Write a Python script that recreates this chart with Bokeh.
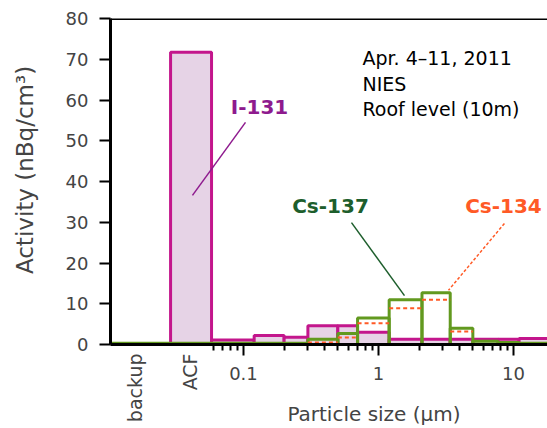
import math
from bokeh.plotting import figure
from bokeh.models import (FixedTicker, Label, Span, Range1d, ColumnDataSource,
                          LogAxis)
from bokeh.embed import file_html
from bokeh.resources import INLINE

# ---------------- data ----------------
categories = ["backup", "ACF"]
cat_i131 = [0.0, 71.7]
cat_cs137 = [0.3, 0.3]
cat_cs134 = [0.0, 0.0]

size_edges = [0.058, 0.12, 0.2, 0.3, 0.5, 0.7, 1.2, 2.1, 3.4, 5.0, 7.7, 11.0, 30.0]
i131 = [1.1, 2.2, 1.8, 4.6, 4.6, 3.0, 1.3, 1.3, 1.3, 1.3, 1.3, 1.5]
cs137 = [0.3, 0.3, 0.3, 1.3, 2.7, 6.5, 11.0, 12.7, 4.0, 0.8, 0.5, 0.3]
cs134 = [0.0, 0.0, 0.0, 0.5, 1.7, 5.2, 8.9, 11.0, 3.2, 0.0, 0.0, 0.0]

major_ticks = [0.1, 1, 10]
minor_ticks = [0.06, 0.07, 0.08, 0.09,
               0.2, 0.3, 0.4, 0.5, 0.6, 0.7, 0.8, 0.9,
               2, 3, 4, 5, 6, 7, 8, 9]
y_ticks = [0, 10, 20, 30, 40, 50, 60, 70, 80]
info_lines = ["Apr. 4\u201311, 2011", "NIES", "Roof level (10m)"]
x_title = "Particle size (\u03bcm)"
y_title = "Activity (nBq/cm\u00b3)"

# ---------------- layout constants ----------------
X_START = 10 ** -1.985
X_END = 10 ** 1.252
CAT_SPLIT = 10 ** -1.54
cat_edges = [X_START, CAT_SPLIT, size_edges[0]]
cat_label_pos = [10 ** -1.80, 10 ** -1.393]
XPAD = "\u2003" * 4 + "\u2002"   # shifts the x title toward the log region
YPAD = "\u2003"

FONT = "DejaVu Sans"
MAGENTA = "#c3168c"
FILL = "#e6d3e6"
GREEN = "#62991f"
ORANGE = "#ff5a26"

p = figure(width=547, height=428, x_axis_type="log",
           x_range=Range1d(X_START, X_END), y_range=Range1d(0, 80),
           output_backend="svg", toolbar_location=None,
           min_border_left=110, min_border_right=0,
           min_border_top=18, min_border_bottom=84)
p.outline_line_color = None
p.xgrid.visible = False
p.ygrid.visible = False
p.background_fill_color = "white"
p.border_fill_color = "white"

lefts = cat_edges[:-1] + size_edges[:-1]
rights = cat_edges[1:] + size_edges[1:]

src = ColumnDataSource(dict(left=lefts, right=rights,
                            i131=cat_i131 + i131,
                            cs137=cat_cs137 + cs137,
                            cs134=cat_cs134 + cs134))

p.quad(left="left", right="right", bottom=0, top="i131", source=src,
       fill_color=FILL, line_color=MAGENTA, line_width=3)
p.quad(left="left", right="right", bottom=0, top="cs137", source=src,
       fill_color=None, line_color=GREEN, line_width=3)

all134 = cat_cs134 + cs134
o_l = [l for l, v in zip(lefts, all134) if v > 0]
o_r = [r for r, v in zip(rights, all134) if v > 0]
o_v = [v for v in all134 if v > 0]
p.segment(x0=o_l, x1=o_r, y0=o_v, y1=o_v, line_color=ORANGE,
          line_width=2, line_dash="4 3")

# ---------------- axes ----------------
ya = p.yaxis[0]
ya.ticker = FixedTicker(ticks=y_ticks)
ya.axis_line_width = 3
ya.major_tick_line_width = 2
ya.major_tick_out = 11
ya.major_tick_in = 0
ya.minor_tick_line_color = None
ya.major_label_text_font = FONT
ya.major_label_text_font_size = "18px"
ya.major_label_standoff = 11
ya.axis_label = YPAD + y_title
ya.axis_label_text_font = FONT
ya.axis_label_text_font_size = "23px"
ya.axis_label_text_font_style = "normal"
ya.axis_label_standoff = 25

xa = p.xaxis[0]
xa.ticker = FixedTicker(ticks=major_ticks, minor_ticks=minor_ticks)
xa.axis_line_width = 3
xa.major_tick_line_width = 2
xa.minor_tick_line_width = 2
xa.major_tick_out = 11
xa.major_tick_in = 0
xa.minor_tick_out = 6
xa.minor_tick_in = 0
xa.major_label_text_font = FONT
xa.major_label_text_font_size = "18px"
xa.major_label_standoff = 11
xa.major_label_overrides = {0.1: "0.1", 1: "1", 10: "10"}
xa.axis_label = XPAD + x_title
xa.axis_label_text_font = FONT
xa.axis_label_text_font_size = "20px"
xa.axis_label_text_font_style = "normal"
xa.axis_label_standoff = 19

p.add_layout(Span(location=80, dimension="width", line_color="black", line_width=3))

# category labels (rotated) on an extra axis
cat_axis = LogAxis(ticker=FixedTicker(ticks=cat_label_pos),
                   major_label_overrides={c: n for c, n in zip(cat_label_pos, categories)},
                   major_label_orientation=math.pi / 2,
                   axis_line_color=None,
                   major_tick_line_color=None, minor_tick_line_color=None,
                   major_tick_out=0, major_tick_in=0,
                   minor_tick_out=0, minor_tick_in=0,
                   major_label_standoff=-75,
                   major_label_text_font=FONT,
                   major_label_text_font_size="19px")
p.add_layout(cat_axis, "below")

# info text
for j, t in enumerate(info_lines):
    p.add_layout(Label(x=0.761, y=70.2 - 6.2 * j, text=t, text_align="left",
                       text_baseline="alphabetic", text_font=FONT,
                       text_font_size="19px", text_color="black"))

# series labels and leader lines
p.add_layout(Label(x=0.1314, y=58.4, text="I-131", text_align="center",
                   text_baseline="middle", text_font=FONT, text_font_size="20px",
                   text_font_style="bold", text_color="#8e1a8e"))
p.line(x=[0.1035, 0.0419], y=[54.5, 36.6], line_color="#8e1a8e", line_width=1.5)

p.add_layout(Label(x=0.441, y=33.9, text="Cs-137", text_align="center",
                   text_baseline="middle", text_font=FONT, text_font_size="20px",
                   text_font_style="bold", text_color="#1d5e2c"))
p.line(x=[0.631, 1.558], y=[29.9, 12.0], line_color="#1d5e2c", line_width=1.5)

p.add_layout(Label(x=8.43, y=33.9, text="Cs-134", text_align="center",
                   text_baseline="middle", text_font=FONT, text_font_size="20px",
                   text_font_style="bold", text_color=ORANGE))
p.line(x=[8.57, 3.30], y=[29.7, 13.3], line_color=ORANGE, line_width=1.5,
       line_dash="3 2")

open("out.html", "w").write(file_html(p, INLINE))
